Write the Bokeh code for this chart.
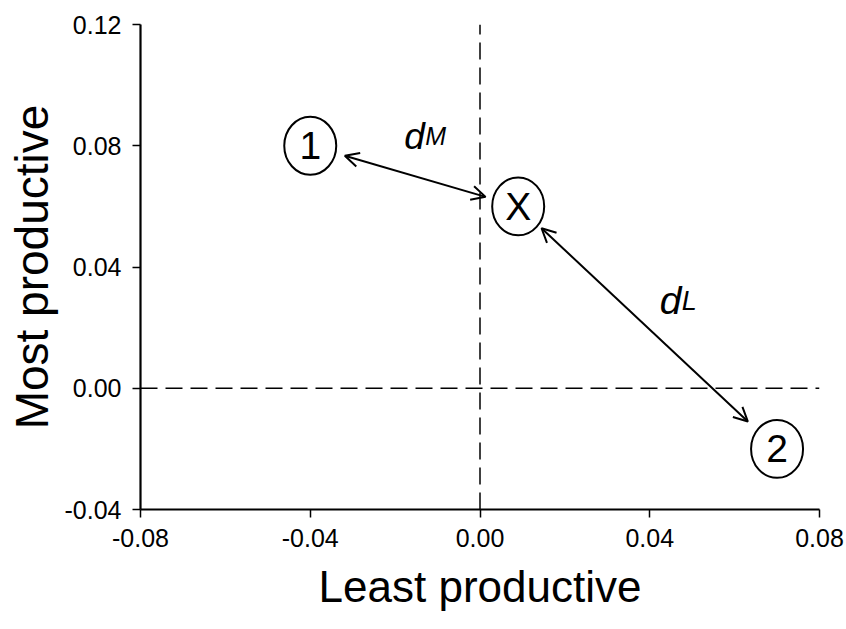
from bokeh.plotting import figure
from bokeh.models import (Range1d, FixedTicker, NumeralTickFormatter, Arrow,
                          OpenHead, Label)
from bokeh.embed import file_html
from bokeh.resources import INLINE
import math

# Positions of the three units on the two productivity axes
point_names = ["1", "X", "2"]
least_prod = [-0.04, 0.009, 0.07]
most_prod = [0.08, 0.06, -0.02]

# Distances drawn between unit pairs, with their labels
pairs = [(0, 1), (1, 2)]
pair_main = ["d", "d"]
pair_sub = ["M", "L"]

x_ticks = [-0.08, -0.04, 0.0, 0.04, 0.08]
y_ticks = [-0.04, 0.0, 0.04, 0.08, 0.12]

FONT = "Liberation Sans"
W, H = 846, 629
B_LEFT, B_RIGHT, B_TOP, B_BOTTOM = 140, 27, 24, 120
frame_w = W - B_LEFT - B_RIGHT
frame_h = H - B_TOP - B_BOTTOM

x0, x1 = -0.08, 0.08
y0, y1 = -0.04, 0.12

p = figure(width=W, height=H, output_backend="svg", toolbar_location=None,
           x_range=Range1d(x0, x1), y_range=Range1d(y0, y1),
           min_border_left=B_LEFT, min_border_right=B_RIGHT,
           min_border_top=B_TOP, min_border_bottom=B_BOTTOM)
p.outline_line_color = None
p.xgrid.visible = False
p.ygrid.visible = False
p.background_fill_color = "white"
p.border_fill_color = "white"

for ax, ticks in ((p.xaxis[0], x_ticks), (p.yaxis[0], y_ticks)):
    ax.ticker = FixedTicker(ticks=ticks)
    ax.formatter = NumeralTickFormatter(format="0.00")
    ax.axis_line_width = 2.2
    ax.major_tick_line_width = 1.5
    ax.major_tick_in = 0
    ax.major_tick_out = 8
    ax.minor_tick_line_color = None
    ax.major_label_text_font = FONT
    ax.major_label_text_font_size = "25px"
    ax.major_label_text_color = "black"
    ax.axis_label_text_font = FONT
    ax.axis_label_text_font_style = "normal"
    ax.axis_label_text_color = "black"

p.xaxis.axis_label = "Least productive"
p.yaxis.axis_label = "Most productive"
p.xaxis.axis_label_text_font_size = "44px"
p.yaxis.axis_label_text_font_size = "46px"
p.xaxis.major_label_standoff = 11
p.yaxis.major_label_standoff = 11
p.xaxis.axis_label_standoff = 12
p.yaxis.axis_label_standoff = 4

# Dashed reference lines through the origin
p.segment(x0=[0.0, x0], y0=[y0, 0.0], x1=[0.0, x1], y1=[y1, 0.0],
          line_color="black", line_width=1.5, line_dash="17 8")

# Double-headed arrows between circled units, trimmed back from the centres
px_x = frame_w / (x1 - x0)
px_y = frame_h / (y1 - y0)
trims = [(36, 34), (32, 40)]

for (a, b), (ta, tb) in zip(pairs, trims):
    xa, ya = least_prod[a], most_prod[a]
    xb, yb = least_prod[b], most_prod[b]
    dx_px = (xb - xa) * px_x
    dy_px = (yb - ya) * px_y
    dist = math.hypot(dx_px, dy_px)
    ux, uy = dx_px / dist, dy_px / dist
    xs = xa + ux * ta / px_x
    ys = ya + uy * ta / px_y
    xe = xb - ux * tb / px_x
    ye = yb - uy * tb / px_y
    p.add_layout(Arrow(x_start=xs, y_start=ys, x_end=xe, y_end=ye,
                       line_color="black", line_width=2,
                       start=OpenHead(size=14, line_width=2, line_color="black"),
                       end=OpenHead(size=14, line_width=2, line_color="black")))

# Distance labels near the arrow midpoints
label_style = [
    dict(dx=-10, dy=40, size=37, sub_dx=21, sub_size=25),
    dict(dx=12, dy=27, size=39, sub_dx=22, sub_size=27),
]
for (a, b), main, sub, st in zip(pairs, pair_main, pair_sub, label_style):
    mx = (least_prod[a] + least_prod[b]) / 2
    my = (most_prod[a] + most_prod[b]) / 2
    p.add_layout(Label(x=mx, y=my, x_offset=st["dx"], y_offset=st["dy"],
                       text=main, text_font=FONT, text_font_style="italic",
                       text_font_size=f'{st["size"]}px', text_color="black",
                       text_baseline="alphabetic", text_align="left"))
    p.add_layout(Label(x=mx, y=my, x_offset=st["dx"] + st["sub_dx"],
                       y_offset=st["dy"],
                       text=sub, text_font=FONT, text_font_style="italic",
                       text_font_size=f'{st["sub_size"]}px', text_color="black",
                       text_baseline="alphabetic", text_align="left"))

# Circled units
p.ellipse(x=least_prod, y=most_prod, width=52, height=58,
          width_units="screen", height_units="screen",
          fill_color="white", line_color="black", line_width=2)
for name, xv, yv in zip(point_names, least_prod, most_prod):
    p.add_layout(Label(x=xv, y=yv, text=name, text_font=FONT,
                       text_font_size="39px", text_color="black",
                       text_align="center", text_baseline="middle"))

open("out.html", "w").write(file_html(p, INLINE))
